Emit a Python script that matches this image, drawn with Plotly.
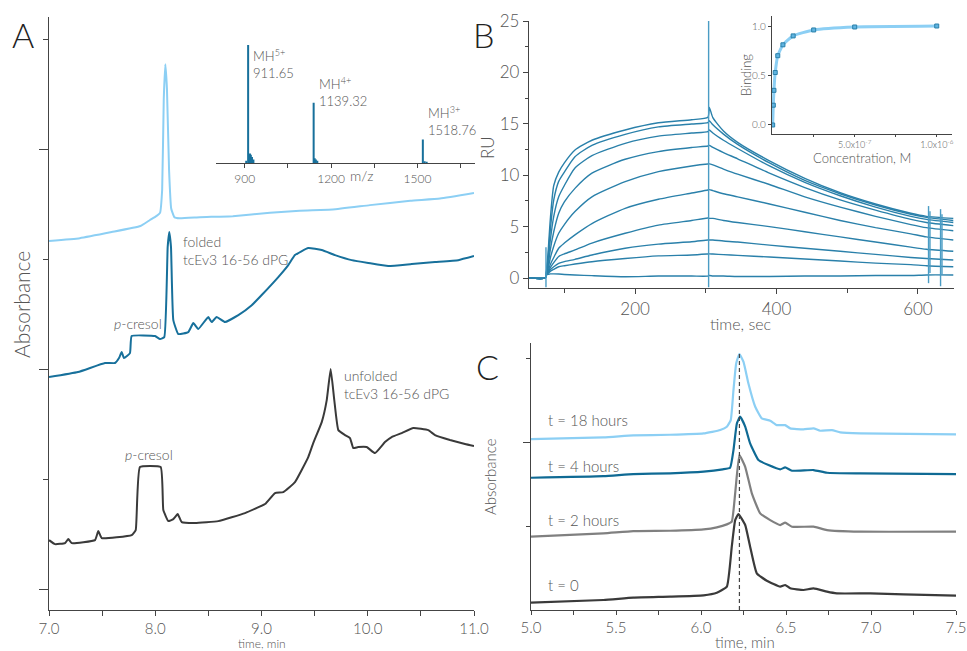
import plotly.graph_objects as go

W, H = 967, 651
FONT = "Lato"
TXT = "#555555"
AX = "#444444"
WGT = 300


def fx(px):
    return px / W


def fy(py):
    return 1 - py / H


# ---------------- Panel A: HPLC traces ----------------
a_light_t = [7.00, 7.29, 7.59, 7.86, 7.95, 8.01, 8.045, 8.065, 8.08, 8.095, 8.11, 8.13, 8.15, 8.18,
             8.23, 8.42, 8.73, 9.08, 9.36, 9.67, 10.02, 10.40, 10.68, 11.00]
a_light_v = [3.164, 3.19, 3.245, 3.30, 3.355, 3.39, 3.42, 3.63, 4.45, 4.77, 4.55, 3.81, 3.46, 3.38,
             3.37, 3.38, 3.39, 3.42, 3.44, 3.45, 3.49, 3.53, 3.55, 3.60]

a_folded_t = [7.00, 7.273, 7.527, 7.621, 7.659, 7.684, 7.706, 7.762, 7.778, 7.998, 8.045, 8.085,
              8.117, 8.132, 8.148, 8.170, 8.217, 8.311, 8.358, 8.405, 8.499, 8.531, 8.578, 8.656,
              8.782, 8.908, 9.002, 9.158, 9.252, 9.315, 9.44, 9.567, 9.692, 9.849, 10.005, 10.193,
              10.414, 10.633, 10.852, 11.00]
a_folded_v = [1.927, 1.973, 2.055, 2.055, 2.10, 2.155, 2.10, 2.145, 2.30, 2.30, 2.273, 2.29,
              3.11, 3.245, 3.11, 2.445, 2.318, 2.336, 2.418, 2.364, 2.473, 2.427, 2.473, 2.427,
              2.49, 2.58, 2.673, 2.836, 2.945, 3.036, 3.10, 3.082, 3.036, 2.99, 2.964, 2.936,
              2.955, 2.973, 2.99, 3.027]

a_unfolded_t = [7.00, 7.056, 7.151, 7.182, 7.214, 7.433, 7.464, 7.496, 7.778, 7.816, 7.856, 8.051,
                8.076, 8.123, 8.17, 8.211, 8.249, 8.374, 8.593, 8.845, 9.033, 9.127, 9.205, 9.315,
                9.44, 9.487, 9.567, 9.614, 9.651, 9.685, 9.723, 9.786, 9.833, 9.864, 9.911, 9.99,
                10.068, 10.162, 10.225, 10.32, 10.429, 10.57, 10.633, 10.774, 10.915, 11.00]
a_unfolded_v = [0.445, 0.409, 0.418, 0.455, 0.418, 0.445, 0.527, 0.464, 0.491, 0.536, 1.109, 1.109,
                0.718, 0.618, 0.636, 0.682, 0.609, 0.60, 0.618, 0.691, 0.773, 0.873, 0.882, 0.973,
                1.20, 1.327, 1.518, 1.718, 2.00, 1.718, 1.445, 1.40, 1.373, 1.282, 1.291, 1.291,
                1.236, 1.336, 1.382, 1.418, 1.464, 1.445, 1.40, 1.355, 1.318, 1.30]

a_xticks = [7, 8, 9, 10, 11]
a_xlabels = ["7.0", "8.0", "9.0", "10.0", "11.0"]

# Mass spectrum inset (m/z, relative intensity)
ms_mz = [905, 911.65, 915, 918, 921, 925, 930, 1139.32, 1143, 1147, 1152, 1518.76, 1525, 1532]
ms_int = [0.02, 1.0, 0.06, 0.08, 0.07, 0.05, 0.03, 0.51, 0.04, 0.03, 0.02, 0.20, 0.015, 0.01]
ms_labels = ["MH<sup>5+</sup><br>911.65", "MH<sup>4+</sup><br>1139.32", "MH<sup>3+</sup><br>1518.76"]
ms_label_mz = [911.65, 1139.32, 1518.76]
ms_xticks = [900, 1200, 1500]

# ---------------- Panel B: SPR sensorgrams ----------------
sg_time = [50, 73, 74, 77, 80, 85, 92, 100, 115, 139, 186, 233, 280, 303,
           305, 310, 325, 345, 390, 440, 490, 540, 590, 612, 650]
sg_ru = [
    [0, 0, 0.3, 2.5, 5.6, 9.0, 10.3, 11.2, 12.45, 13.4, 14.4, 15.1, 15.4, 15.63,
     16.6, 15.6, 14.3, 13.2, 11.4, 9.7, 8.3, 7.2, 6.3, 6.0, 5.8],
    [0, 0, 0.3, 2.0, 4.6, 7.6, 9.4, 10.3, 11.8, 12.9, 13.97, 14.7, 14.98, 15.11,
     15.3, 14.9, 14.0, 13.0, 11.2, 9.5, 8.2, 7.1, 6.2, 5.9, 5.6],
    [0, 0, 0.3, 1.6, 3.6, 6.0, 7.9, 9.0, 10.7, 11.9, 13.1, 13.8, 14.1, 14.24,
     14.4, 14.1, 13.4, 12.6, 10.9, 9.3, 8.0, 6.9, 6.0, 5.7, 5.4],
    [0, 0, 0.3, 1.2, 2.7, 4.5, 6.3, 7.4, 8.72, 10.2, 11.55, 12.3, 12.7, 12.84,
     12.9, 12.7, 12.2, 11.6, 10.2, 8.8, 7.6, 6.6, 5.7, 5.4, 5.1],
    [0, 0, 0.3, 0.9, 1.9, 3.1, 4.35, 5.2, 6.46, 7.9, 9.37, 10.35, 10.9, 11.09,
     11.1, 11.0, 10.6, 10.1, 9.1, 7.9, 6.9, 6.0, 5.2, 4.9, 4.6],
    [0, 0, 0.3, 0.7, 1.3, 2.0, 2.9, 3.4, 4.2, 5.3, 6.78, 7.66, 8.27, 8.56,
     8.6, 8.5, 8.2, 7.9, 7.2, 6.4, 5.6, 4.9, 4.3, 4.0, 3.7],
    [0, 0, 0.3, 0.6, 1.0, 1.5, 2.1, 2.35, 2.73, 3.4, 4.35, 5.15, 5.6, 5.84,
     5.8, 5.8, 5.6, 5.4, 5.0, 4.5, 4.0, 3.5, 3.0, 2.8, 2.6],
    [0, 0, 0.3, 0.5, 0.8, 1.1, 1.43, 1.6, 1.82, 2.24, 2.9, 3.3, 3.53, 3.7,
     3.7, 3.7, 3.6, 3.5, 3.2, 2.9, 2.6, 2.3, 2.0, 1.9, 1.75],
    [0, 0, 0.3, 0.45, 0.65, 0.85, 1.1, 1.2, 1.36, 1.59, 1.9, 2.15, 2.24, 2.34,
     2.35, 2.33, 2.28, 2.2, 2.05, 1.85, 1.65, 1.45, 1.3, 1.2, 1.1],
    [0, 0, 0.3, 0.35, 0.4, 0.4, 0.39, 0.35, 0.3, 0.23, 0.13, 0.19, 0.19, 0.19,
     0.25, 0.2, 0.2, 0.15, 0.15, 0.2, 0.2, 0.25, 0.25, 0.3, 0.3],
]
# injection / buffer-switch artifacts (time, low RU, high RU)
art_t = [74, 304, 615, 617, 632, 634]
art_lo = [-0.9, -0.9, -0.5, 0.5, -0.8, 0.3]
art_hi = [3.0, 25.0, 7.0, 6.5, 6.7, 6.2]

# Binding isotherm inset
conc_m = [0, 3.9e-9, 7.8e-9, 1.5625e-8, 3.125e-8, 6.25e-8, 1.25e-7, 2.5e-7, 5e-7, 1e-6]
binding = [0.0, 0.2, 0.35, 0.53, 0.70, 0.81, 0.90, 0.96, 0.99, 1.0]

# ---------------- Panel C: stability time course ----------------
c0_t = [5.0, 5.426, 5.602, 5.818, 6.015, 6.093, 6.152, 6.181, 6.201, 6.22, 6.26, 6.289, 6.328,
        6.387, 6.466, 6.495, 6.525, 6.603, 6.662, 6.741, 6.799, 6.996, 7.192, 7.5]
c0_v = [0.087, 0.119, 0.147, 0.159, 0.175, 0.206, 0.278, 0.754, 1.071, 1.143, 1.012, 0.754, 0.437,
        0.349, 0.278, 0.298, 0.258, 0.238, 0.258, 0.218, 0.198, 0.198, 0.187, 0.171]
c2_t = [5.0, 5.426, 5.602, 5.818, 6.015, 6.093, 6.152, 6.181, 6.201, 6.226, 6.26, 6.299, 6.348,
        6.407, 6.466, 6.495, 6.535, 6.662, 6.741, 6.937, 7.5]
c2_v = [0.873, 0.913, 0.94, 0.944, 0.96, 0.984, 1.02, 1.052, 1.389, 1.845, 1.706, 1.389, 1.151,
        1.071, 1.012, 1.04, 0.992, 0.992, 0.952, 0.933, 0.933]
c4_t = [5.0, 5.426, 5.602, 5.818, 6.015, 6.128, 6.171, 6.191, 6.211, 6.23, 6.26, 6.289, 6.338,
        6.397, 6.466, 6.495, 6.535, 6.662, 6.741, 6.937, 7.5]
c4_v = [1.575, 1.595, 1.619, 1.627, 1.647, 1.675, 1.694, 1.905, 2.222, 2.302, 2.183, 1.984, 1.786,
        1.726, 1.675, 1.698, 1.659, 1.667, 1.635, 1.627, 1.619]
c18_t = [5.0, 5.426, 5.602, 5.818, 6.015, 6.113, 6.152, 6.175, 6.191, 6.207, 6.226, 6.25, 6.279,
         6.319, 6.358, 6.407, 6.446, 6.495, 6.525, 6.603, 6.662, 6.701, 6.77, 6.819, 6.937, 7.5]
c18_v = [2.036, 2.056, 2.079, 2.087, 2.103, 2.143, 2.183, 2.262, 2.619, 2.937, 3.048, 2.956, 2.698,
         2.421, 2.282, 2.254, 2.202, 2.202, 2.163, 2.151, 2.163, 2.135, 2.143, 2.115, 2.103, 2.091]
c_labels = ["t = 18 hours", "t = 4 hours", "t = 2 hours", "t = 0"]
c_xticks = [5.0, 5.5, 6.0, 6.5, 7.0, 7.5]

LIGHT = "#8ccff4"
DEEP = "#17709b"
SPR = "#2a80aa"

fig = go.Figure()

# Panel A traces
a_line = dict(width=2, shape="spline", smoothing=0.35)
fig.add_trace(go.Scatter(x=a_light_t, y=a_light_v, mode="lines", line=dict(color=LIGHT, **a_line),
                         xaxis="x", yaxis="y"))
fig.add_trace(go.Scatter(x=a_folded_t, y=a_folded_v, mode="lines", line=dict(color=DEEP, **a_line),
                         xaxis="x", yaxis="y"))
fig.add_trace(go.Scatter(x=a_unfolded_t, y=a_unfolded_v, mode="lines",
                         line=dict(color="#3a3a3a", **a_line), xaxis="x", yaxis="y"))

# Mass spectrum sticks
ms_x, ms_y = [], []
for mz, it in zip(ms_mz, ms_int):
    ms_x += [mz, mz, mz, None]
    ms_y += [0, it, 0, None]
fig.add_trace(go.Scatter(x=ms_x, y=ms_y, mode="lines", line=dict(color=DEEP, width=2),
                         xaxis="x2", yaxis="y2"))

# Sensorgrams
for ru in sg_ru:
    fig.add_trace(go.Scatter(x=sg_time, y=ru, mode="lines",
                             line=dict(color=SPR, width=1.4, shape="spline", smoothing=0.6),
                             xaxis="x3", yaxis="y3"))
art_x, art_y = [], []
for t, lo, hi in zip(art_t, art_lo, art_hi):
    art_x += [t, t, None]
    art_y += [lo, hi, None]
fig.add_trace(go.Scatter(x=art_x, y=art_y, mode="lines", line=dict(color="#4a9cc4", width=1.4),
                         xaxis="x3", yaxis="y3"))

# Binding isotherm
fig.add_trace(go.Scatter(x=conc_m, y=binding, mode="lines",
                         line=dict(color=LIGHT, width=3, shape="spline", smoothing=0.5),
                         xaxis="x4", yaxis="y4"))
fig.add_trace(go.Scatter(x=conc_m, y=binding, mode="markers",
                         marker=dict(symbol="square", size=4, color="#5fb3e0",
                                     line=dict(color="#2a80aa", width=1)),
                         xaxis="x4", yaxis="y4"))

# Panel C traces
c_series = [(c18_t, c18_v, LIGHT), (c4_t, c4_v, "#0f6a94"), (c2_t, c2_v, "#808080"),
            (c0_t, c0_v, "#3a3a3a")]
for t, v, col in c_series:
    fig.add_trace(go.Scatter(x=t, y=v, mode="lines",
                             line=dict(color=col, width=2.2, shape="spline", smoothing=0.4),
                             xaxis="x5", yaxis="y5"))
peak_i = c18_v.index(max(c18_v))
fig.add_trace(go.Scatter(x=[c18_t[peak_i], c18_t[peak_i]], y=[0, c18_v[peak_i]], mode="lines",
                         line=dict(color="#444444", width=1.2, dash="4px,3px"),
                         xaxis="x5", yaxis="y5"))

common = dict(showline=True, linecolor=AX, linewidth=1.3, showgrid=False, zeroline=False,
              ticks="outside", tickcolor=AX, tickwidth=1.2, automargin=False)


def tfont(size):
    return dict(family=FONT, size=size, color=TXT, weight=WGT)


fig.update_layout(
    width=W, height=H, margin=dict(l=0, r=0, t=0, b=0, autoexpand=False),
    paper_bgcolor="white", plot_bgcolor="white", showlegend=False,
    font=dict(family=FONT, color=TXT, weight=WGT),
    xaxis=dict(domain=[fx(49), fx(474)], range=[7, 11], anchor="y", tickvals=a_xticks,
               ticktext=a_xlabels, ticklen=5, tickfont=tfont(15),
               minor=dict(tickvals=[7.5, 8.5, 9.5, 10.5], ticklen=5, ticks="outside",
                          tickcolor=AX), **common),
    yaxis=dict(domain=[fy(610), fy(17)], range=[-0.19, 5.2], anchor="x", tickvals=[0, 2, 4],
               ticklen=9, showticklabels=False,
               minor=dict(tickvals=[1, 3, 5], ticklen=4.5, ticks="outside", tickcolor=AX),
               **common),
    xaxis2=dict(domain=[fx(216), fx(475)], range=[800, 1700], anchor="y2", tickvals=ms_xticks,
                ticklen=4, tickfont=tfont(12),
                minor=dict(tickvals=[1050, 1350, 1650], ticklen=4, ticks="outside",
                           tickcolor=AX), **common),
    yaxis2=dict(domain=[fy(163), fy(40)], range=[0, 1.042], anchor="x2", visible=False),
    xaxis3=dict(domain=[fx(529), fx(954)], range=[50, 651], anchor="y3",
                tickvals=[200, 400, 600], ticklen=5, tickfont=tfont(17),
                minor=dict(tickvals=[100, 300, 500], ticklen=4, ticks="outside", tickcolor=AX),
                **common),
    yaxis3=dict(domain=[fy(288), fy(21)], range=[-0.97, 25], anchor="x3",
                tickvals=[0, 5, 10, 15, 20, 25], ticklen=5, tickfont=tfont(17),
                minor=dict(tickvals=[2.5, 7.5, 12.5, 17.5, 22.5], ticklen=3, ticks="outside",
                           tickcolor=AX), **common),
    xaxis4=dict(domain=[fx(772), fx(952)], range=[-4e-9, 1.093e-6], anchor="y4",
                tickvals=[5e-7, 1e-6], ticktext=["5.0x10<sup>-7</sup>", "1.0x10<sup>-6</sup>"],
                ticklen=2, tickfont=tfont(9),
                minor=dict(tickvals=[2.5e-7, 7.5e-7], ticklen=2, ticks="outside", tickcolor=AX),
                **common),
    yaxis4=dict(domain=[fy(134), fy(16)], range=[-0.091, 1.101], anchor="x4",
                tickvals=[0, 0.5, 1.0], ticktext=["0.0", "0.5", "1.0"], ticklen=3,
                tickfont=tfont(10), **common),
    xaxis5=dict(domain=[fx(531), fx(956)], range=[5, 7.5], anchor="y5", tickvals=c_xticks,
                ticktext=[f"{v:.1f}" for v in c_xticks], ticklen=4, tickfont=tfont(15),
                minor=dict(tickvals=[5.25, 5.75, 6.25, 6.75, 7.25], ticklen=4, ticks="outside",
                           tickcolor=AX), **common),
    yaxis5=dict(domain=[fy(610), fy(343)], range=[0, 3.18], anchor="x5", tickvals=[2],
                ticklen=7, showticklabels=False,
                minor=dict(tickvals=[1, 3], ticklen=3.5, ticks="outside", tickcolor=AX),
                **common),
)

ann = []


def text(px, py, s, size, color=TXT, angle=0, xanchor="center", yanchor="middle"):
    ann.append(dict(x=fx(px), y=fy(py), xref="paper", yref="paper", text=s, showarrow=False,
                    font=tfont(size) | dict(color=color), textangle=angle,
                    xanchor=xanchor, yanchor=yanchor, align="left"))


# panel letters
text(23, 34, "A", 34, "#222222")
text(484, 34, "B", 34, "#222222")
text(487, 366, "C", 34, "#222222")

# axis titles
text(22, 305, "Absorbance", 21, angle=-90)
text(262, 643, "time, min", 12)
text(361, 175, "m/z", 14)
text(487, 148, "RU", 17, angle=-90)
text(740, 323, "time, sec", 16)
text(746, 75, "Binding", 13, angle=-90)
text(862, 158, "Concentration, M", 13)
text(490, 477, "Absorbance", 15, angle=-90)
text(745, 642, "time, min", 15)

# peak annotations
text(138, 323, "<i>p</i>-cresol", 14)
text(149, 454, "<i>p</i>-cresol", 14)
text(181, 250, "folded<br>tcEv3 16-56 dPG", 14, xanchor="left")
text(342, 384, "unfolded<br>tcEv3 16-56 dPG", 14, xanchor="left")

# mass-spectrum peak labels, anchored to each peak's m/z
ms_label_py = [45, 73, 102]
for s, mz, py in zip(ms_labels, ms_label_mz, ms_label_py):
    ann.append(dict(x=mz, y=fy(py), xref="x2", yref="paper", text=s, showarrow=False,
                    font=tfont(13), xanchor="left", yanchor="top", align="left", xshift=3))

# panel C labels
for s, py in zip(c_labels, [420, 466, 520, 585]):
    text(546, py, s, 15, xanchor="left")

fig.update_layout(annotations=ann)
fig.write_html("out.html")
